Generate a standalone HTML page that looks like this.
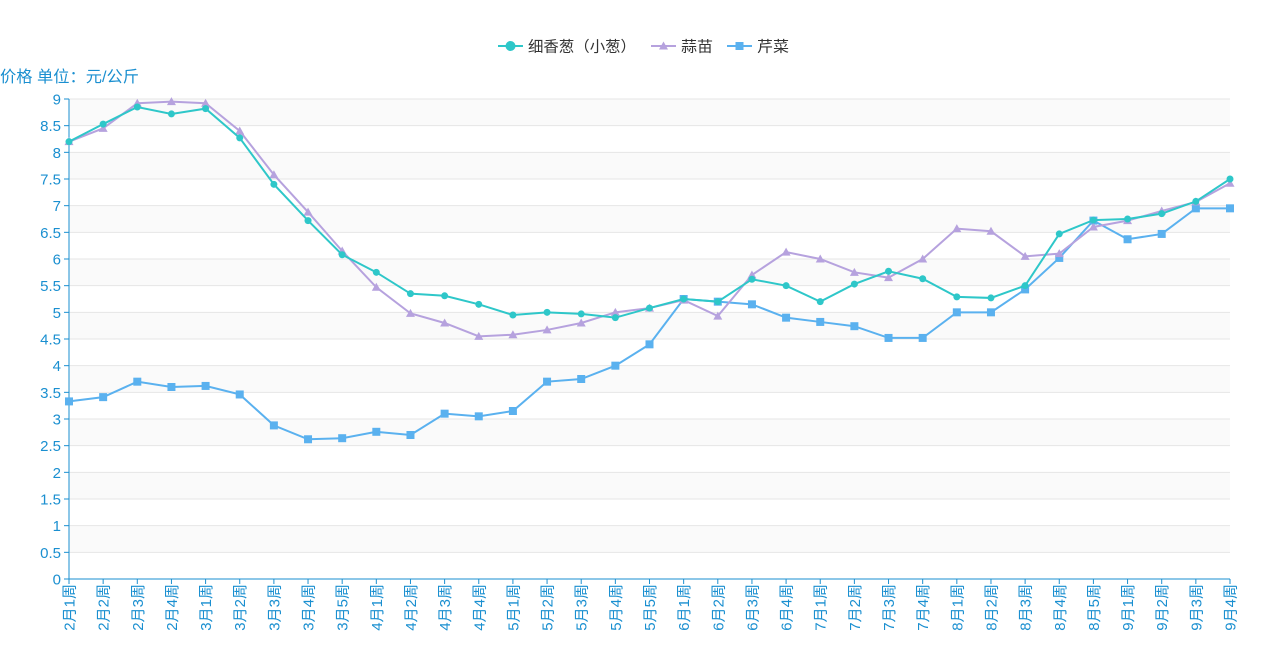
<!DOCTYPE html>
<html><head><meta charset="utf-8">
<style>
html,body{margin:0;padding:0;background:#fff;}
svg{display:block;font-family:"Liberation Sans","Noto Sans CJK SC",sans-serif;}
</style></head>
<body>
<svg id="c" width="1282" height="658" xmlns="http://www.w3.org/2000/svg"></svg>
<script>
const s1=[8.2,8.53,8.85,8.72,8.82,8.27,7.4,6.72,6.08,5.75,5.35,5.31,5.15,4.95,5.0,4.97,4.9,5.08,5.25,5.2,5.62,5.5,5.2,5.53,5.77,5.63,5.29,5.27,5.5,6.47,6.73,6.75,6.85,7.08,7.5];
const s2=[8.2,8.45,8.92,8.95,8.92,8.4,7.58,6.88,6.15,5.47,4.98,4.8,4.55,4.58,4.67,4.8,5.0,5.08,5.23,4.93,5.7,6.13,6.0,5.75,5.65,6.0,6.57,6.52,6.05,6.1,6.6,6.72,6.9,7.07,7.42];
const s3=[3.33,3.41,3.7,3.6,3.62,3.46,2.88,2.62,2.64,2.76,2.7,3.1,3.05,3.15,3.7,3.75,4.0,4.4,5.25,5.2,5.15,4.9,4.82,4.74,4.52,4.52,5.0,5.0,5.43,6.02,6.72,6.37,6.47,6.95,6.95];
const cats=[];
[[2,4],[3,5],[4,4],[5,5],[6,4],[7,4],[8,5],[9,4]].forEach(([m,n])=>{for(let i=1;i<=n;i++)cats.push(m+"月"+i+"周");});
const x0=69,x1=1230,y0=579,yt=99,dx=(x1-x0)/34;
const X=i=>x0+i*dx, Y=v=>y0-(y0-yt)*v/9;
const ax="#1a8fd0";
let h='';
for(let k=0;k<18;k++){const ya=Y(k*0.5+0.5),yb=Y(k*0.5);
 h+=`<rect x="${x0}" y="${ya}" width="${x1-x0}" height="${yb-ya}" fill="${k%2==1?'#fafafa':'#fff'}"/>`;}
for(let k=0;k<=18;k++){const y=Y(k*0.5);
 if(k>0)h+=`<line x1="${x0}" x2="${x1}" y1="${y}" y2="${y}" stroke="#e6e6e6"/>`;
 h+=`<line x1="${x0-5}" x2="${x0}" y1="${y}" y2="${y}" stroke="${ax}"/>`;
 h+=`<text x="${x0-8}" y="${y+5.5}" text-anchor="end" font-size="15" fill="${ax}">${+(k*0.5).toFixed(1)}</text>`;}
h+=`<line x1="${x0}" x2="${x0}" y1="${yt}" y2="${y0}" stroke="${ax}"/>`;
h+=`<line x1="${x0}" x2="${x1}" y1="${y0}" y2="${y0}" stroke="${ax}"/>`;
cats.forEach((c,i)=>{const x=X(i);
 h+=`<line x1="${x}" x2="${x}" y1="${y0}" y2="${y0+5}" stroke="${ax}"/>`;
 h+=`<text transform="translate(${x+5.5},${y0+5}) rotate(-90)" text-anchor="end" font-size="15" fill="${ax}">${c}</text>`;});
h+=`<text x="0" y="82" font-size="16" fill="${ax}" textLength="139" lengthAdjust="spacingAndGlyphs">价格 单位：元/公斤</text>`;
function line(d,col,mk){h+=`<polyline fill="none" stroke="${col}" stroke-width="2" points="${d.map((v,i)=>X(i)+','+Y(v)).join(' ')}"/>`;
 d.forEach((v,i)=>h+=mk(X(i),Y(v),col));}
const circ=(x,y,c)=>`<circle cx="${x}" cy="${y}" r="3.5" fill="${c}"/>`;
const tri=(x,y,c)=>`<polygon points="${x},${y-4.5} ${x-4.5},${y+3.5} ${x+4.5},${y+3.5}" fill="${c}"/>`;
const sq=(x,y,c)=>`<rect x="${x-4}" y="${y-4}" width="8" height="8" fill="${c}"/>`;
line(s3,"#5ab1ef",sq);line(s2,"#b6a2de",tri);line(s1,"#2ec7c9",circ);
function leg(x,col,mk,t,w){h+=`<line x1="${x}" x2="${x+25}" y1="46" y2="46" stroke="${col}" stroke-width="2"/>`+mk(x+12.5,46,col).replace('r="3.5"','r="5"')+`<text x="${x+30}" y="51.5" font-size="15" fill="#333" textLength="${w}" lengthAdjust="spacingAndGlyphs">${t}</text>`;}
leg(498,"#2ec7c9",circ,"细香葱（小葱）",108);
leg(651,"#b6a2de",tri,"蒜苗",32);
leg(727,"#5ab1ef",sq,"芹菜",32);
document.getElementById('c').innerHTML=h;
</script>
</body></html>
